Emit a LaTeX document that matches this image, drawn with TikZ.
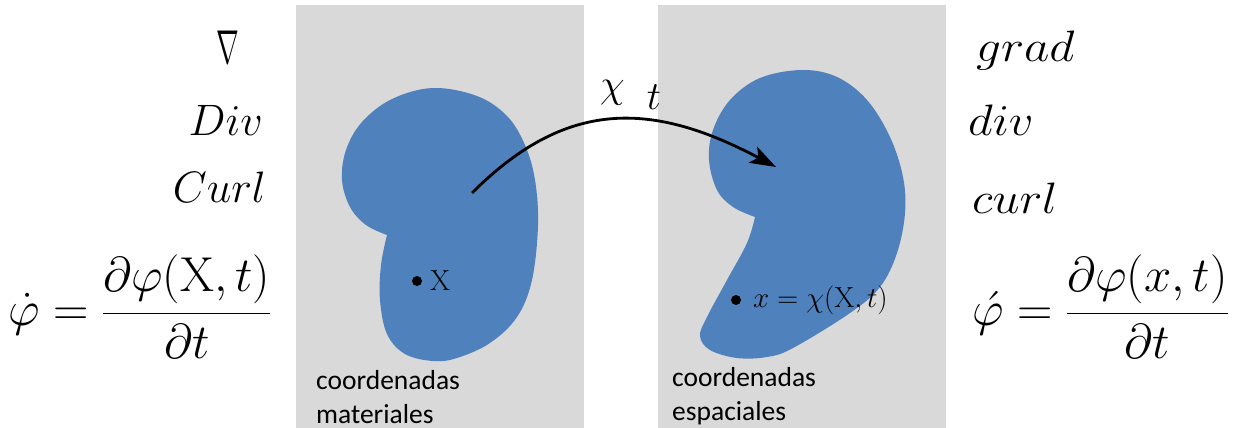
\RequirePackage{fix-cm}
\documentclass[tikz,border=0pt]{standalone}
\usepackage{fontspec}
\usepackage{graphicx}
\newfontfamily\calib{Carlito}
\usetikzlibrary{arrows.meta}
\definecolor{panelgrey}{HTML}{D9D9D9}
\definecolor{blobblue}{HTML}{4F81BD}
\tikzset{
  panel/.style={fill=panelgrey},
  blob/.style={fill=blobblue},
  bigmath/.style={inner sep=0pt, font=\fontsize{44}{50}\selectfont},
  eqmath/.style={inner sep=0pt, font=\fontsize{49}{55}\selectfont},
  smallmath/.style={inner sep=0pt, font=\fontsize{29}{34}\selectfont},
  coordtext/.style={inner sep=0pt, align=left, font=\calib\fontsize{27.5}{34}\selectfont},
  pointdot/.style={circle, fill=black, inner sep=0pt, minimum size=10pt},
  maparrow/.style={line width=2.8pt, -{Stealth[length=26pt, width=18pt, inset=6pt]}},
}
\begin{document}
\begin{tikzpicture}[x=1pt, y=-1pt]
\useasboundingbox (0,0) rectangle (1244,428);
% panels
\fill[panel] (296,5) rectangle (584,428);
\fill[panel] (658,5) rectangle (946,428);
% material body
\fill[blob] plot[smooth, tension=0.6] coordinates {
  (387,235) (366,225) (350,207) (342,180) (346,150) (362,122) (392,99)
  (433,88) (477,96) (507,116) (525,145) (535,180) (538,225) (532,280)
  (517,317) (490,343) (457,358) (433,361) (405,354) (387,334) (380,300)
  (381,265) (387,235)} -- cycle;
% spatial body
\fill[blob] plot[smooth, tension=0.6] coordinates {
  (755,217) (733,207) (717,190) (709,160) (713,130) (730,100) (760,78)
  (802,70) (837,77) (867,100) (890,137) (903,177) (905,213) (897,253)
  (880,287) (850,313) (793,348) (767,357) (737,358) (710,350) (700,336)
  (707,317) (727,280) (747,243) (755,217)} -- cycle;
% left column
\node[bigmath] (nabla) at (228,47) {\scalebox{0.62}[1.08]{$\nabla$}};
\node[bigmath, anchor=base east] (Div) at (263,135) {$Div$};
\node[bigmath, anchor=base east] (Curl) at (266,202) {$Curl$};
\node[eqmath, anchor=base west] (eqL) at (8,325)
  {$\displaystyle\dot{\varphi} = \frac{\partial\varphi(\mathrm{X},t)}{\partial t}$};
% right column
\node[bigmath, anchor=base west] (grad) at (976,62) {\scalebox{1.12}[1]{$grad$}};
\node[bigmath, anchor=base west] (div) at (968,135) {\scalebox{1.1}[1]{$div$}};
\node[bigmath, anchor=base west] (curl) at (972,213) {\scalebox{1.1}[1]{$curl$}};
\node[eqmath, anchor=base west] (eqR) at (972,325)
  {$\displaystyle\acute{\varphi} = \frac{\partial\varphi(x,t)}{\partial t}$};
% points
\node[pointdot] (P) at (417,281) {};
\node[smallmath, anchor=west] (Plab) at (430,281) {$\mathrm{X}$};
\node[pointdot] (p) at (736,300) {};
\node[smallmath, anchor=west] (plab) at (753,300) {$x=\chi(\mathrm{X},t)$};
% captions
\node[coordtext, anchor=north west] (capL) at (316,370) {coordenadas\\materiales};
\node[coordtext, anchor=north west] (capR) at (672,367) {coordenadas\\espaciales};
% mapping
\coordinate (a0) at (472,193);
\coordinate (a1) at (776,167);
\draw[maparrow] (a0) .. controls (565,100) and (650,100) .. (a1);
\node[inner sep=0pt, font=\fontsize{40}{46}\selectfont, anchor=base west] (chi) at (600,97)
  {$\chi\;\;\raisebox{-0.3em}{$t$}$};
\end{tikzpicture}
\end{document}
